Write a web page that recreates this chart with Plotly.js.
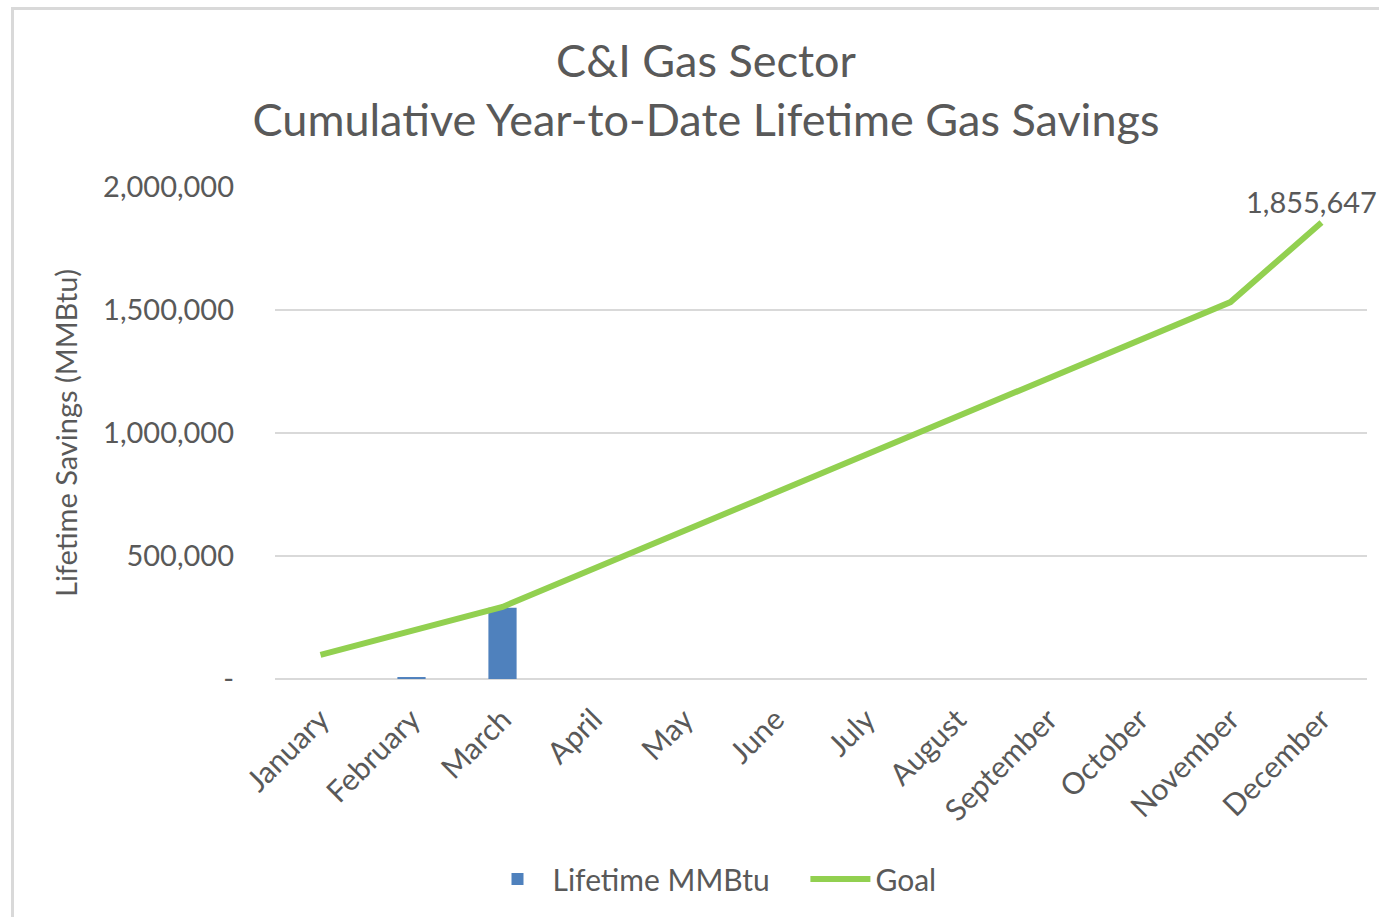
<!DOCTYPE html>
<html>
<head>
<meta charset="utf-8">
<script src="https://cdn.plot.ly/plotly-3.0.1.min.js"></script>
<style>
  html, body { margin: 0; padding: 0; background: #ffffff; overflow: hidden; }
  #wrap { position: relative; width: 1379px; height: 917px; }
  #chart { position: absolute; left: 0; top: 0; width: 1379px; height: 917px; }
  #frame { position: absolute; left: 11px; top: 7px; width: 1400px; height: 950px;
           border-left: 3px solid #d9d9d9; border-top: 3px solid #d9d9d9; pointer-events: none; }
</style>
</head>
<body>
<div id="wrap">
  <div id="chart"></div>
  <div id="frame"></div>
</div>
<script>
const months = ["January","February","March","April","May","June","July","August","September","October","November","December"];
const lifetimeMMBtu = [0, 8000, 290000, null, null, null, null, null, null, null, null, null];
const goal = [98000, 197000, 293000, 448000, 603000, 758000, 913000, 1068000, 1223000, 1377000, 1532000, 1855647];
const yTickVals = [0, 500000, 1000000, 1500000, 2000000];
const yTickText = ["-", "500,000", "1,000,000", "1,500,000", "2,000,000"];

const FONT = "Lato, 'Open Sans', sans-serif";
const TXT = "#595959";

const traces = [
  {
    type: "bar", name: "Lifetime MMBtu\u00a0\u00a0\u00a0\u00a0", x: months, y: lifetimeMMBtu,
    marker: { color: "#4F81BD" }, hoverinfo: "x+y"
  },
  {
    type: "scatter", mode: "lines", name: "Goal", x: months, y: goal,
    line: { color: "#92D050", width: 6 }
  }
];

const layout = {
  width: 1379, height: 917,
  margin: { l: 275, r: 12, t: 187, b: 238 },
  paper_bgcolor: "#ffffff", plot_bgcolor: "#ffffff",
  font: { family: FONT, color: TXT, size: 28 },
  bargap: 0.69,
  title: {
    text: "C&I Gas Sector<br>Cumulative Year-to-Date Lifetime Gas Savings",
    font: { family: FONT, size: 45, color: TXT },
    xref: "container", x: 706 / 1379, xanchor: "center",
    yref: "container", y: 1 - 77 / 917, yanchor: "middle"
  },
  xaxis: {
    type: "category", range: [-0.5, 11.5], autorange: false,
    tickangle: -45, showgrid: false, zeroline: false,
    showline: false, ticks: "", tickfont: { size: 30, color: TXT, family: FONT },
    ticklabelstandoff: 16
  },
  yaxis: {
    range: [0, 2000000], tickvals: yTickVals, ticktext: yTickText,
    showgrid: true, gridcolor: "#d9d9d9", gridwidth: 2, zeroline: true,
    zerolinecolor: "#d9d9d9", zerolinewidth: 2, showline: false, ticks: "",
    tickfont: { size: 29, color: TXT, family: FONT },
    ticklabelstandoff: 40,
    title: { text: "Lifetime Savings (MMBtu)", font: { size: 29, color: TXT, family: FONT }, standoff: 16 }
  },
  legend: {
    orientation: "h", x: 712 / 1379, xref: "container", xanchor: "center",
    y: 1 - 879 / 917, yref: "container", yanchor: "middle",
    font: { size: 30, color: TXT, family: FONT }, itemwidth: 60
  },
  annotations: [
    {
      x: months[11], y: goal[11], xref: "x", yref: "y",
      text: "1,855,647", showarrow: false, xanchor: "center", yanchor: "bottom",
      xshift: -10, yshift: 2, font: { size: 29, color: TXT, family: FONT }
    }
  ],
  showlegend: true
};

Plotly.newPlot("chart", traces, layout, { displayModeBar: false, staticPlot: true });
</script>
</body>
</html>
